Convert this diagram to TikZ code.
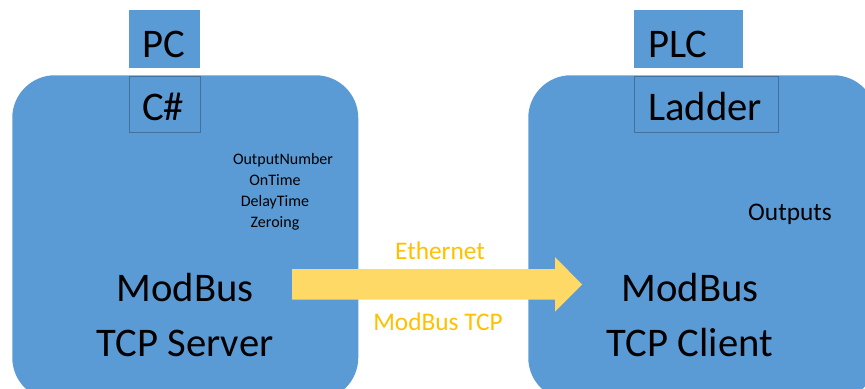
\documentclass[tikz,border=0pt]{standalone}
\usepackage{fontspec}
\setmainfont{Carlito}
\definecolor{boxblue}{HTML}{5B9BD5}
\definecolor{edgeblue}{HTML}{41719C}
\definecolor{arrowyellow}{HTML}{FFD966}
\definecolor{labelorange}{HTML}{FFC000}
\begin{document}
\begin{tikzpicture}[x=0.75pt,y=-0.75pt,
  device/.style={fill=boxblue,draw=none,rounded corners=32pt,inner sep=0pt},
  tag/.style={fill=boxblue,draw=none,inner sep=0pt},
  lang/.style={fill=boxblue,draw=edgeblue,line width=0.5pt,inner sep=0pt},
  bigtxt/.style={font=\fontsize{30.5}{34}\selectfont,anchor=base,inner sep=0pt},
  smalltxt/.style={font=\fontsize{12}{14}\selectfont,anchor=base,inner sep=0pt},
  midtxt/.style={font=\fontsize{19}{22}\selectfont,anchor=base,inner sep=0pt},
  link/.style={fill=arrowyellow,draw=none}]
\useasboundingbox (0,0) rectangle (865,389);
\clip (0,0) rectangle (865,389);
% two devices
\path (12,75) node[device,anchor=north west,minimum width=259.5pt,minimum height=243.75pt] (server) {};
\path (528,75) node[device,anchor=north west,minimum width=261pt,minimum height=243.75pt] (client) {};
% headers and languages
\node[tag,anchor=north west,minimum width=53.25pt,minimum height=43.5pt] (pc) at (129,10) {};
\node[lang,anchor=north west,minimum width=53.25pt,minimum height=42pt] (cs) at (129,76) {};
\node[tag,anchor=north west,minimum width=81.75pt,minimum height=43.5pt] (plc) at (634,10) {};
\node[lang,anchor=north west,minimum width=108pt,minimum height=42pt] (ladder) at (634,76) {};
\node[bigtxt] (pctxt) at (164,57) {PC};
\node[bigtxt] (cstxt) at (163,120) {C\#};
\node[bigtxt,anchor=base west] (plctxt) at (648,57) {PLC};
\node[bigtxt,anchor=base west] (laddertxt) at (648,120) {Ladder};
% register names
\node[smalltxt] (r1) at (283,164) {OutputNumber};
\node[smalltxt] (r2) at (275,185) {OnTime};
\node[smalltxt] (r3) at (275,206) {DelayTime};
\node[smalltxt] (r4) at (275,227) {Zeroing};
\node[midtxt] (outs) at (790,220) {Outputs};
% roles
\node[bigtxt] (s1) at (185,301) {ModBus};
\node[bigtxt] (s2) at (185,356) {TCP Server};
\node[bigtxt] (c1) at (690,301) {ModBus};
\node[bigtxt] (c2) at (690,356) {TCP Client};
% block arrow from server to client
\coordinate (tail) at (292,284.5);
\coordinate (tip) at (582,284.5);
\fill[link] (tail) ++(0,-15.5) -- ++(263,0) -- ++(0,-12) -- (tip)
  -- ++(-27,27) -- ++(0,-12) -- ++(-263,0) -- cycle;
\node[midtxt,text=labelorange] (eth) at (440,259) {Ethernet};
\node[midtxt,text=labelorange] (proto) at (438,330) {ModBus TCP};
\end{tikzpicture}
\end{document}
